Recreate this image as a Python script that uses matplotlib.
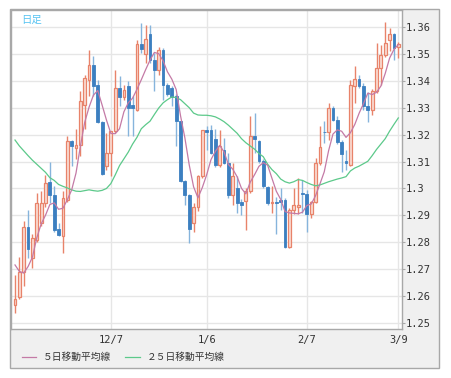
import matplotlib
matplotlib.use('Agg')
import matplotlib.pyplot as plt
from matplotlib.patches import Rectangle
from matplotlib.lines import Line2D
import pandas as pd

# daily candles
opens = [1.2568, 1.2596, 1.2690, 1.2857, 1.2741, 1.2809, 1.2871, 1.2946, 1.3024, 1.2974,
         1.2849, 1.2822, 1.2958, 1.3177, 1.3150, 1.3163, 1.3310, 1.3404, 1.3460, 1.3385,
         1.3247, 1.3082, 1.3132, 1.3212, 1.3373, 1.3340, 1.3382, 1.3309, 1.3293, 1.3537,
         1.3500, 1.3575, 1.3476, 1.3441, 1.3513, 1.3386, 1.3372, 1.3345, 1.3249, 1.3026,
         1.2974, 1.2871, 1.2933, 1.3045, 1.3216, 1.3216, 1.3184, 1.3086, 1.3144, 1.3094,
         1.2977, 1.3001, 1.2950, 1.2952, 1.2989, 1.3194, 1.3177, 1.3101, 1.3004, 1.2946,
         1.2950, 1.2957, 1.2958, 1.2782, 1.2921, 1.2931, 1.2985, 1.2980, 1.2906, 1.2948,
         1.3094, 1.3211, 1.3211, 1.3299, 1.3256, 1.3172, 1.3101, 1.3088, 1.3381, 1.3408,
         1.3382, 1.3308, 1.3293, 1.3361, 1.3448, 1.3497, 1.3553, 1.3574, 1.3526]
highs = [1.2679, 1.2747, 1.2881, 1.2921, 1.2830, 1.2983, 1.2990, 1.3051, 1.3098, 1.3008,
         1.2871, 1.2989, 1.3194, 1.3181, 1.3220, 1.3361, 1.3420, 1.3513, 1.3491, 1.3404,
         1.3250, 1.3206, 1.3215, 1.3441, 1.3417, 1.3386, 1.3398, 1.3342, 1.3553, 1.3615,
         1.3609, 1.3609, 1.3503, 1.3526, 1.3520, 1.3390, 1.3380, 1.3350, 1.3252, 1.3030,
         1.2980, 1.2945, 1.3050, 1.3218, 1.3231, 1.3237, 1.3220, 1.3218, 1.3187, 1.3132,
         1.3094, 1.3045, 1.2960, 1.3000, 1.3268, 1.3280, 1.3180, 1.3110, 1.3010, 1.3010,
         1.2970, 1.3000, 1.2965, 1.2927, 1.3002, 1.3039, 1.3030, 1.2995, 1.2955, 1.3112,
         1.3231, 1.3249, 1.3317, 1.3305, 1.3268, 1.3181, 1.3144, 1.3404, 1.3454, 1.3420,
         1.3390, 1.3360, 1.3370, 1.3541, 1.3534, 1.3619, 1.3596, 1.3576, 1.3545]
lows = [1.2537, 1.2590, 1.2636, 1.2741, 1.2704, 1.2800, 1.2860, 1.2930, 1.2946, 1.2840,
        1.2822, 1.2760, 1.2950, 1.3082, 1.3110, 1.3120, 1.3220, 1.3342, 1.3342, 1.3243,
        1.3051, 1.3070, 1.3045, 1.3205, 1.3305, 1.3330, 1.3196, 1.3196, 1.3287, 1.3503,
        1.3466, 1.3466, 1.3361, 1.3423, 1.3330, 1.3342, 1.3305, 1.3156, 1.3024, 1.2940,
        1.2797, 1.2840, 1.2915, 1.3040, 1.3144, 1.3128, 1.3080, 1.3080, 1.3090, 1.2964,
        1.2940, 1.2909, 1.2900, 1.2844, 1.2985, 1.3132, 1.3095, 1.3000, 1.2940, 1.2909,
        1.2830, 1.2920, 1.2778, 1.2778, 1.2906, 1.2906, 1.2910, 1.2840, 1.2890, 1.2945,
        1.3088, 1.3169, 1.3181, 1.3250, 1.3166, 1.3063, 1.3070, 1.3083, 1.3317, 1.3375,
        1.3293, 1.3246, 1.3274, 1.3355, 1.3386, 1.3490, 1.3510, 1.3479, 1.3485]
closes = [1.2589, 1.2688, 1.2857, 1.2775, 1.2816, 1.2946, 1.2946, 1.3020, 1.2974, 1.2847,
          1.2827, 1.2964, 1.3177, 1.3156, 1.3160, 1.3324, 1.3410, 1.3460, 1.3379, 1.3247,
          1.3053, 1.3132, 1.3212, 1.3373, 1.3340, 1.3367, 1.3299, 1.3299, 1.3537, 1.3518,
          1.3555, 1.3476, 1.3441, 1.3513, 1.3386, 1.3351, 1.3340, 1.3249, 1.3026, 1.2974,
          1.2849, 1.2933, 1.3045, 1.3216, 1.3211, 1.3132, 1.3086, 1.3156, 1.3094, 1.2977,
          1.3045, 1.2946, 1.2940, 1.2992, 1.3194, 1.3184, 1.3101, 1.3008, 1.2946, 1.2948,
          1.2945, 1.2950, 1.2782, 1.2921, 1.2940, 1.2937, 1.2980, 1.2906, 1.2948, 1.3094,
          1.3154, 1.3208, 1.3299, 1.3256, 1.3172, 1.3128, 1.3094, 1.3386, 1.3407, 1.3382,
          1.3305, 1.3290, 1.3361, 1.3448, 1.3497, 1.3541, 1.3574, 1.3522, 1.3538]

# 5-day average: first values (earlier days not shown)
ma5_head = [1.2716, 1.2692, 1.2686, 1.2710]
# 25-day average
ma25 = [1.3180, 1.3158, 1.3140, 1.3122, 1.3105, 1.3090, 1.3075, 1.3060, 1.3040, 1.3030,
        1.3015, 1.3008, 1.3002, 1.2995, 1.2990, 1.2989, 1.2992, 1.2995, 1.2992, 1.2990,
        1.2993, 1.3000, 1.3018, 1.3050, 1.3085, 1.3110, 1.3135, 1.3165, 1.3190, 1.3222,
        1.3237, 1.3250, 1.3275, 1.3299, 1.3318, 1.3330, 1.3340, 1.3338, 1.3330, 1.3315,
        1.3300, 1.3280, 1.3273, 1.3272, 1.3272, 1.3270, 1.3266, 1.3258, 1.3248, 1.3235,
        1.3220, 1.3205, 1.3185, 1.3170, 1.3158, 1.3146, 1.3130, 1.3118, 1.3090, 1.3070,
        1.3055, 1.3035, 1.3025, 1.3020, 1.3025, 1.3033, 1.3030, 1.3022, 1.3015, 1.3010,
        1.3013, 1.3019, 1.3025, 1.3030, 1.3035, 1.3039, 1.3044, 1.3065, 1.3076, 1.3083,
        1.3092, 1.3101, 1.3122, 1.3145, 1.3165, 1.3185, 1.3213, 1.3238, 1.3262]

date_labels = ['12/7', '1/6', '2/7', '3/9']
date_idx = [22, 44, 67, 88]
price_ticks = [1.25, 1.26, 1.27, 1.28, 1.29, 1.30, 1.31, 1.32, 1.33, 1.34, 1.35, 1.36]
price_labels = ['1.25', '1.26', '1.27', '1.28', '1.29', '1.3', '1.31', '1.32', '1.33', '1.34', '1.35', '1.36']

ma5 = pd.Series(closes).rolling(5).mean().tolist()
ma5[:4] = ma5_head

W, H = 452, 378
fig = plt.figure(figsize=(W / 100, H / 100), dpi=100)

# outer grey panel
fig.patches.append(Rectangle((10 / W, 1 - 368 / H), 429 / W, 359 / H, transform=fig.transFigure,
                             facecolor='#f0f0f0', edgecolor='#a8a8a8', linewidth=1, zorder=-5))

ax = fig.add_axes([11 / W, 1 - 329 / H, 391 / W, 319 / H])
ax.set_zorder(2)
ax.set_facecolor('white')
for s in ax.spines.values():
    s.set_color('#a8a8a8')
    s.set_linewidth(1)

n = len(closes)
x = list(range(n))
up_edge, up_fill = '#e8836a', '#fadcd3'
dn_body, dn_wick = '#3c7fc0', '#86b4dc'
for i in x:
    o, h, l, c = opens[i], highs[i], lows[i], closes[i]
    if c >= o:
        ax.vlines(i, l, h, color=up_edge, linewidth=1, zorder=2)
        ax.bar(i, max(c - o, 0.00008), bottom=o, width=0.64, facecolor=up_fill,
               edgecolor=up_edge, linewidth=0.9, zorder=3)
    else:
        ax.vlines(i, l, h, color=dn_wick, linewidth=1, zorder=2)
        ax.bar(i, o - c, bottom=c, width=0.64, facecolor=dn_body,
               edgecolor=dn_body, linewidth=0.6, zorder=3)

ax.plot(x, ma25, color='#5cc98a', linewidth=0.9, zorder=4)
ax.plot(x, ma5, color='#c47aa6', linewidth=0.9, zorder=4)

ax.set_xlim(-0.92, 88.85)
ax.set_ylim(1.2478, 1.3663)
ax.set_yticks(price_ticks)
ax.set_yticklabels(price_labels)
ax.set_xticks(date_idx)
ax.set_xticklabels(date_labels)
ax.yaxis.tick_right()
ax.tick_params(axis='y', length=2, pad=1, color='#a8a8a8', labelsize=7.5, labelcolor='#333333')
ax.tick_params(axis='x', length=0, pad=4, labelsize=7.5, labelcolor='#333333')
for lab in ax.get_xticklabels() + ax.get_yticklabels():
    lab.set_family('DejaVu Sans Mono')
ax.grid(True, color='#e6e6e6', linewidth=1, zorder=0)
ax.set_axisbelow(True)

ax.text(0.027, 0.985, '日足', transform=ax.transAxes, ha='left', va='top', fontsize=7.5,
        color='#58c4f2', family=['Noto Sans CJK JP', 'DejaVu Sans'])

# legend row
cjk = ['Noto Sans CJK JP', 'DejaVu Sans']
ly = 1 - 357 / H
fig.add_artist(Line2D([22 / W, 36 / W], [ly, ly], color='#c47aa6', linewidth=0.9))
fig.text(43 / W, ly, '５日移動平均線', fontsize=7, va='center', ha='left', color='#333333', family=cjk)
fig.add_artist(Line2D([125 / W, 140 / W], [ly, ly], color='#5cc98a', linewidth=0.9))
fig.text(147 / W, ly, '２５日移動平均線', fontsize=7, va='center', ha='left', color='#333333', family=cjk)

fig.savefig('out.png', dpi=100)
